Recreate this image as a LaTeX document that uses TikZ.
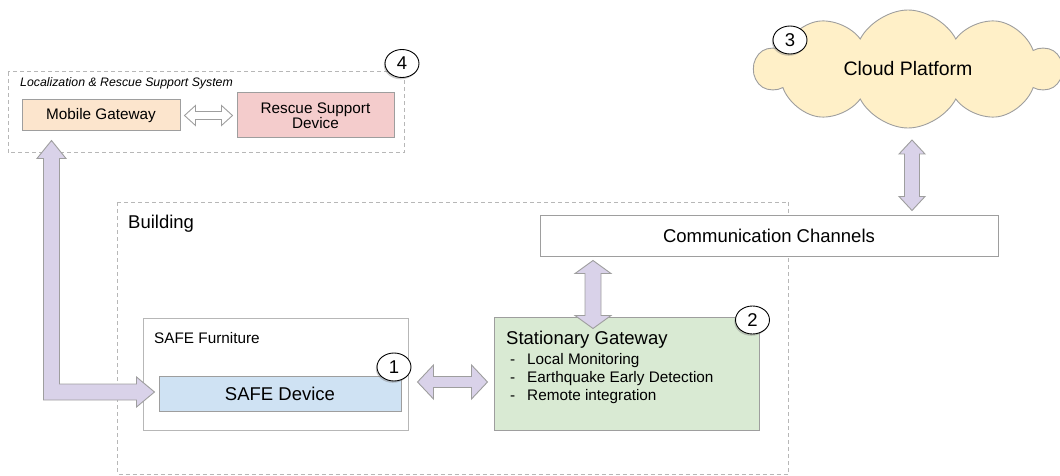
\documentclass[tikz,border=0pt]{standalone}
\usepackage{fontspec}
\setmainfont{Liberation Sans}
\usetikzlibrary{shapes.symbols,shapes.geometric,shadows,calc}
\definecolor{lav}{HTML}{D9D2E9}
\definecolor{bord}{HTML}{9E9E9E}
\definecolor{dashc}{HTML}{B7B7B7}
\definecolor{mgc}{HTML}{FCE5CD}
\definecolor{rsc}{HTML}{F4CCCC}
\definecolor{sdc}{HTML}{CFE2F3}
\definecolor{sgc}{HTML}{D9EAD3}
\definecolor{cloudc}{HTML}{FFF0C8}
\newcommand{\fsz}[1]{\fontsize{#1}{#1}\selectfont}
% vertical fat double arrow: top point, bottom point, shaft half, head half, head length, style
\newcommand{\fatV}[6]{\draw[#6] let \p1=#1, \p2=#2 in (\x1,\y1) -- (\x1+#4,\y1-#5) -- (\x1+#3,\y1-#5) -- (\x1+#3,\y2+#5) -- (\x1+#4,\y2+#5) -- (\x1,\y2) -- (\x1-#4,\y2+#5) -- (\x1-#3,\y2+#5) -- (\x1-#3,\y1-#5) -- (\x1-#4,\y1-#5) -- cycle;}
% horizontal fat double arrow: left point, right point, shaft half, head half, head length, style
\newcommand{\fatH}[6]{\draw[#6] let \p1=#1, \p2=#2 in (\x1,\y1) -- (\x1+#5,\y1+#4) -- (\x1+#5,\y1+#3) -- (\x2-#5,\y1+#3) -- (\x2-#5,\y1+#4) -- (\x2,\y1) -- (\x2-#5,\y1-#4) -- (\x2-#5,\y1-#3) -- (\x1+#5,\y1-#3) -- (\x1+#5,\y1-#4) -- cycle;}
\tikzset{
  box/.style={draw=bord, line width=1pt, inner sep=0pt},
  fatarrow/.style={fill=lav, draw=bord, line width=0.9pt, line join=miter},
  hollowarrow/.style={fill=white, draw=bord, line width=0.9pt, line join=miter},
  dashbox/.style={draw=dashc, line width=1pt, dash pattern=on 4pt off 3pt},
  numc/.style={ellipse, draw=black, fill=white, line width=0.9pt, minimum width=34pt, minimum height=28pt, inner sep=0pt, font=\fsz{18.5},
    drop shadow={opacity=0.4, fill=gray, shadow xshift=-1.2pt, shadow yshift=-1.8pt}},
  lbl/.style={inner sep=0pt, anchor=west}
}
\begin{document}
\begin{tikzpicture}[x=1pt,y=-1pt]
\useasboundingbox (0,0) rectangle (1060,476);
% containers
\draw[dashbox] (8,72) rectangle (404,153);
\node[lbl, font=\fsz{12.3}\itshape] (lrsst) at (20,83) {Localization \& Rescue Support System};
\draw[dashbox] (117.5,202) rectangle (788.5,474);
\node[lbl, font=\fsz{18.5}] (bldt) at (128,224) {Building};
\node[box, draw=dashc, minimum width=265pt, minimum height=112pt] (sf) at (275.5,374) {};
\node[lbl, font=\fsz{15.3}] (sft) at (154,338) {SAFE Furniture};
% boxes
\node[box, fill=mgc, minimum width=158pt, minimum height=31pt, font=\fsz{15.3}] (mg) at (101,115.5) {Mobile Gateway};
\node[box, fill=rsc, minimum width=157pt, minimum height=45pt, font=\fsz{15.3}, align=center] (rsd) at (315.5,115.5) {\fontsize{15.3}{17}\selectfont Rescue Support\\Device};
\node[cloud, cloud puffs=10, cloud puff arc=125, aspect=2.6, draw=bord, line width=0.9pt, fill=cloudc, minimum width=306pt, minimum height=118pt, inner sep=0pt, font=\fsz{19.5}] (cloud) at (908,69) {Cloud Platform};
\node[box, fill=white, minimum width=458pt, minimum height=41pt, font=\fsz{18.5}] (cc) at (769,235.5) {Communication Channels};
\node[box, fill=sdc, minimum width=242pt, minimum height=35pt, font=\fsz{18.5}] (sd) at (280,393.5) {SAFE Device};
\node[box, fill=sgc, minimum width=265pt, minimum height=113pt] (sg) at (626.5,373.5) {};
\node[lbl, font=\fsz{18.5}] (sgt) at (506,340) {Stationary Gateway};
\node[lbl, font=\fontsize{15.3}{18}\selectfont, align=left] (sgl) at (510,379) {\makebox[17pt][l]{-}Local Monitoring\\\makebox[17pt][l]{-}Earthquake Early Detection\\\makebox[17pt][l]{-}Remote integration};
% connectors
\fatH{($(mg.east)+(4,0)$)}{($(rsd.west)+(-4,0)$)}{4pt}{10pt}{11pt}{hollowarrow}
\fatV{($(cloud.center)+(4,71)$)}{($(cc.north)+(143,-4)$)}{7.5pt}{13pt}{14pt}{fatarrow}
\fatV{($(cc.south)+(-176,4)$)}{($(sg.north)+(-33.5,12)$)}{8pt}{18pt}{13pt}{fatarrow}
\fatH{($(sd.east)+(16,-11.5)$)}{($(sg.west)+(-6,8.5)$)}{5.5pt}{17pt}{16pt}{fatarrow}
\draw[fatarrow] let \p1=($(mg.south west)+(30,9)$), \p2=($(sd.west)+(-4,-1.5)$) in
  (\x1,\y1) -- (\x1+14.5pt,\y1-18pt) -- (\x1+8pt,\y1-18pt) -- (\x1+8pt,\y2+8pt) -- (\x2-18pt,\y2+8pt) -- (\x2-18pt,\y2+15pt) -- (\x2,\y2) -- (\x2-18pt,\y2-15pt) -- (\x2-18pt,\y2-8pt) -- (\x1-8pt,\y2-8pt) -- (\x1-8pt,\y1-18pt) -- (\x1-14.5pt,\y1-18pt) -- cycle;
% number badges
\node[numc] (n1) at (394,367) {1};
\node[numc] (n2) at (752.5,320) {2};
\node[numc] (n3) at (790,40) {3};
\node[numc] (n4) at (402,63.5) {4};
\end{tikzpicture}
\end{document}
